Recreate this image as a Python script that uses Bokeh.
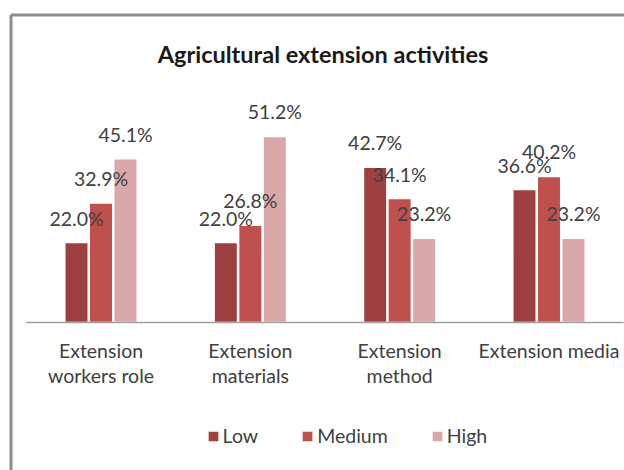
from bokeh.plotting import figure
from bokeh.models import ColumnDataSource, Range1d, Legend, LegendItem, Label
from bokeh.transform import dodge
from bokeh.core.properties import value
from bokeh.embed import file_html
from bokeh.resources import INLINE

# ---- data ----
title_text = "Agricultural extension activities"
categories = ["Extension\nworkers role", "Extension\nmaterials", "Extension\nmethod", "Extension media"]
series = ["Low", "Medium", "High"]
low = [22.0, 22.0, 42.7, 36.6]
medium = [32.9, 26.8, 34.1, 40.2]
high = [45.1, 51.2, 23.2, 23.2]

# ---- style / layout ----
colors = ["#9e4040", "#c0504d", "#d9a8a8"]
FONT = "Lato"
TXT = "#404040"
W, H = 624, 470             # canvas, placed at page (0, 0)
PAGE0 = 0
CAT_PX = 149.33             # pixels per category
FIRST_CAT_PX = 100.5        # page x of first category centre
UNIT_PX = 3.633             # pixels per percentage point
BASE_PX = 322               # page y of the zero line

x_range = Range1d((PAGE0 - FIRST_CAT_PX) / CAT_PX, (PAGE0 + W - FIRST_CAT_PX) / CAT_PX)
y_range = Range1d(-(PAGE0 + H - BASE_PX) / UNIT_PX, (BASE_PX - PAGE0) / UNIT_PX)


def px_x(page_x):
    return (page_x - FIRST_CAT_PX) / CAT_PX


def px_y(page_y):
    return (BASE_PX - page_y) / UNIT_PX


idx = list(range(len(categories)))
src = ColumnDataSource(dict(
    x=idx, cat=categories,
    Low=low, Medium=medium, High=high,
    Low_l=[f"{v:.1f}%" for v in low],
    Medium_l=[f"{v:.1f}%" for v in medium],
    High_l=[f"{v:.1f}%" for v in high],
    zero=[0] * len(categories),
))

p = figure(width=W, height=H, output_backend="svg", toolbar_location=None,
           x_range=x_range, y_range=y_range,
           x_axis_location=None, y_axis_location=None,
           min_border=0, min_border_left=0, min_border_right=0,
           min_border_top=0, min_border_bottom=0)
p.xgrid.grid_line_color = None
p.ygrid.grid_line_color = None
p.outline_line_color = None

# chart-area border (left and top edges visible in the window)
bx, by = px_x(10.5), px_y(14.5)
p.segment(x0=[bx, bx], y0=[by, by], x1=[bx, x_range.end + 1], y1=[y_range.start - 5, by],
          line_color="#8c8c8c", line_width=3)

# title
p.add_layout(Label(x=(len(categories) - 1) / 2, y=px_y(53.5), x_offset=-2, text=title_text,
                   text_font=FONT, text_font_size="23.5px", text_font_style="bold",
                   text_color="#1a1a1a", text_align="center", text_baseline="middle"))

offsets = [-0.164, 0.0, 0.164]
renderers = []
for s, off, c in zip(series, offsets, colors):
    r = p.vbar(x=dodge("x", off), top=s, bottom=0, width=0.157, source=src,
               fill_color=c, line_color="white", line_width=1.5)
    renderers.append(r)

# baseline (category axis line)
p.segment(x0=[-0.5], y0=[0], x1=[len(categories) - 0.5], y1=[0],
          line_color="#a0a0a0", line_width=1.5)

for s, off in zip(series, offsets):
    p.text(x=dodge("x", off), y=s, text=s + "_l", source=src,
           text_align="center", text_baseline="middle", y_offset=-24.5,
           text_font=value(FONT), text_font_size="19.5px", text_color=TXT)

# category labels
p.text(x="x", y="zero", text="cat", source=src, text_align="center", text_baseline="top",
       y_offset=16, text_line_height=1.12,
       text_font=value(FONT), text_font_size="19.5px", text_color=TXT)

legend = Legend(items=[LegendItem(label=s, renderers=[r]) for s, r in zip(series, renderers)],
                orientation="horizontal", location=(205.6, 23), padding=0, spacing=42,
                glyph_width=14, glyph_height=14, label_standoff=3, margin=0,
                border_line_color=None, background_fill_alpha=0,
                label_text_font=FONT, label_text_font_size="19.5px", label_text_color=TXT)
p.add_layout(legend)

open("out.html", "w").write(file_html(p, INLINE))
